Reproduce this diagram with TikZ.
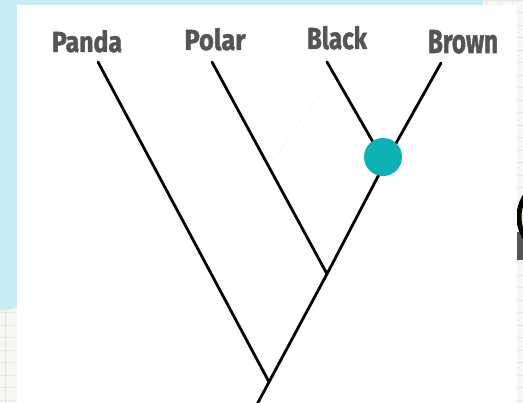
\documentclass[tikz,border=0pt]{standalone}
\usepackage{fontspec}
\setmainfont{Fira Sans}
\newfontfamily\lblfont[FakeBold=1.6]{Fira Sans}
\usepackage{graphicx}
\definecolor{skyblue}{HTML}{C7ECF5}
\definecolor{paper}{HTML}{F7F6F2}
\definecolor{gridc}{HTML}{E9E7E1}
\definecolor{labelgrey}{HTML}{555555}
\definecolor{dotteal}{HTML}{0BB1B3}
\definecolor{sunyellow}{HTML}{FFF7A6}
\begin{document}
\begin{tikzpicture}[x=1pt,y=-1pt,
  branch/.style={line width=2.8pt, line cap=round, line join=round, black},
  lbl/.style={text=labelgrey, anchor=base, inner sep=0pt, font=\lblfont\bfseries},
  ghost/.style={gray!12, line width=1pt, dotted}]
\useasboundingbox (0,0) rectangle (523,403);
\begin{scope}
  \clip (0,0) rectangle (523,403);
  \fill[paper] (0,0) rectangle (523,403);
  \foreach \y in {0,12.5,...,403} \draw[gridc, line width=0.8pt] (0,\y) -- (523,\y);
  \foreach \x in {5,18,...,523} \draw[gridc, line width=0.8pt] (\x,0) -- (\x,403);
  \fill[skyblue] (0,0) -- (483,0) -- (483,5) -- (17,5) -- (17,308) -- (0,311) -- cycle;
  \fill[white] (17,5) rectangle (517,410);
  % partial icon at the right edge
  \begin{scope}
    \clip (517,0) rectangle (523,403);
    \fill[sunyellow] (558,217) circle (39);
    \fill[labelgrey] (500,232) rectangle (600,260);
    \draw[black, line width=5pt] (558,217) circle (39);
  \end{scope}
\end{scope}

% labels
\node[lbl] (panda) at (87,52) {\resizebox{70pt}{22pt}{Panda}};
\node[lbl] (polar) at (215,50) {\resizebox{61pt}{22pt}{Polar}};
\node[lbl] (black) at (337,49) {\resizebox{60pt}{23pt}{Black}};
\node[lbl] (brown) at (463,53) {\resizebox{70pt}{23pt}{Brown}};

% branch ends and junctions
\coordinate (pandaend) at (98,62);
\coordinate (polarend) at (212,62);
\coordinate (blackend) at (327,62);
\coordinate (brownend) at (441,63);
\coordinate (j3) at (385,163);
\coordinate (j2) at (327,274);
\coordinate (root) at (269,382);
\coordinate (stem) at (254,410);
\coordinate (ghostA) at (328,83);
\coordinate (ghostB) at (273,160);

\draw[ghost] (ghostA) -- (ghostB);

\draw[branch] (pandaend) -- (root);
\draw[branch] (polarend) -- (j2);
\draw[branch] (blackend) -- (j3);
\draw[branch] (brownend) -- (j3) -- (j2) -- (root) -- (stem);

\node[circle, fill=dotteal, minimum size=38pt, inner sep=0pt] (dot) at (383,157) {};
\end{tikzpicture}
\end{document}
